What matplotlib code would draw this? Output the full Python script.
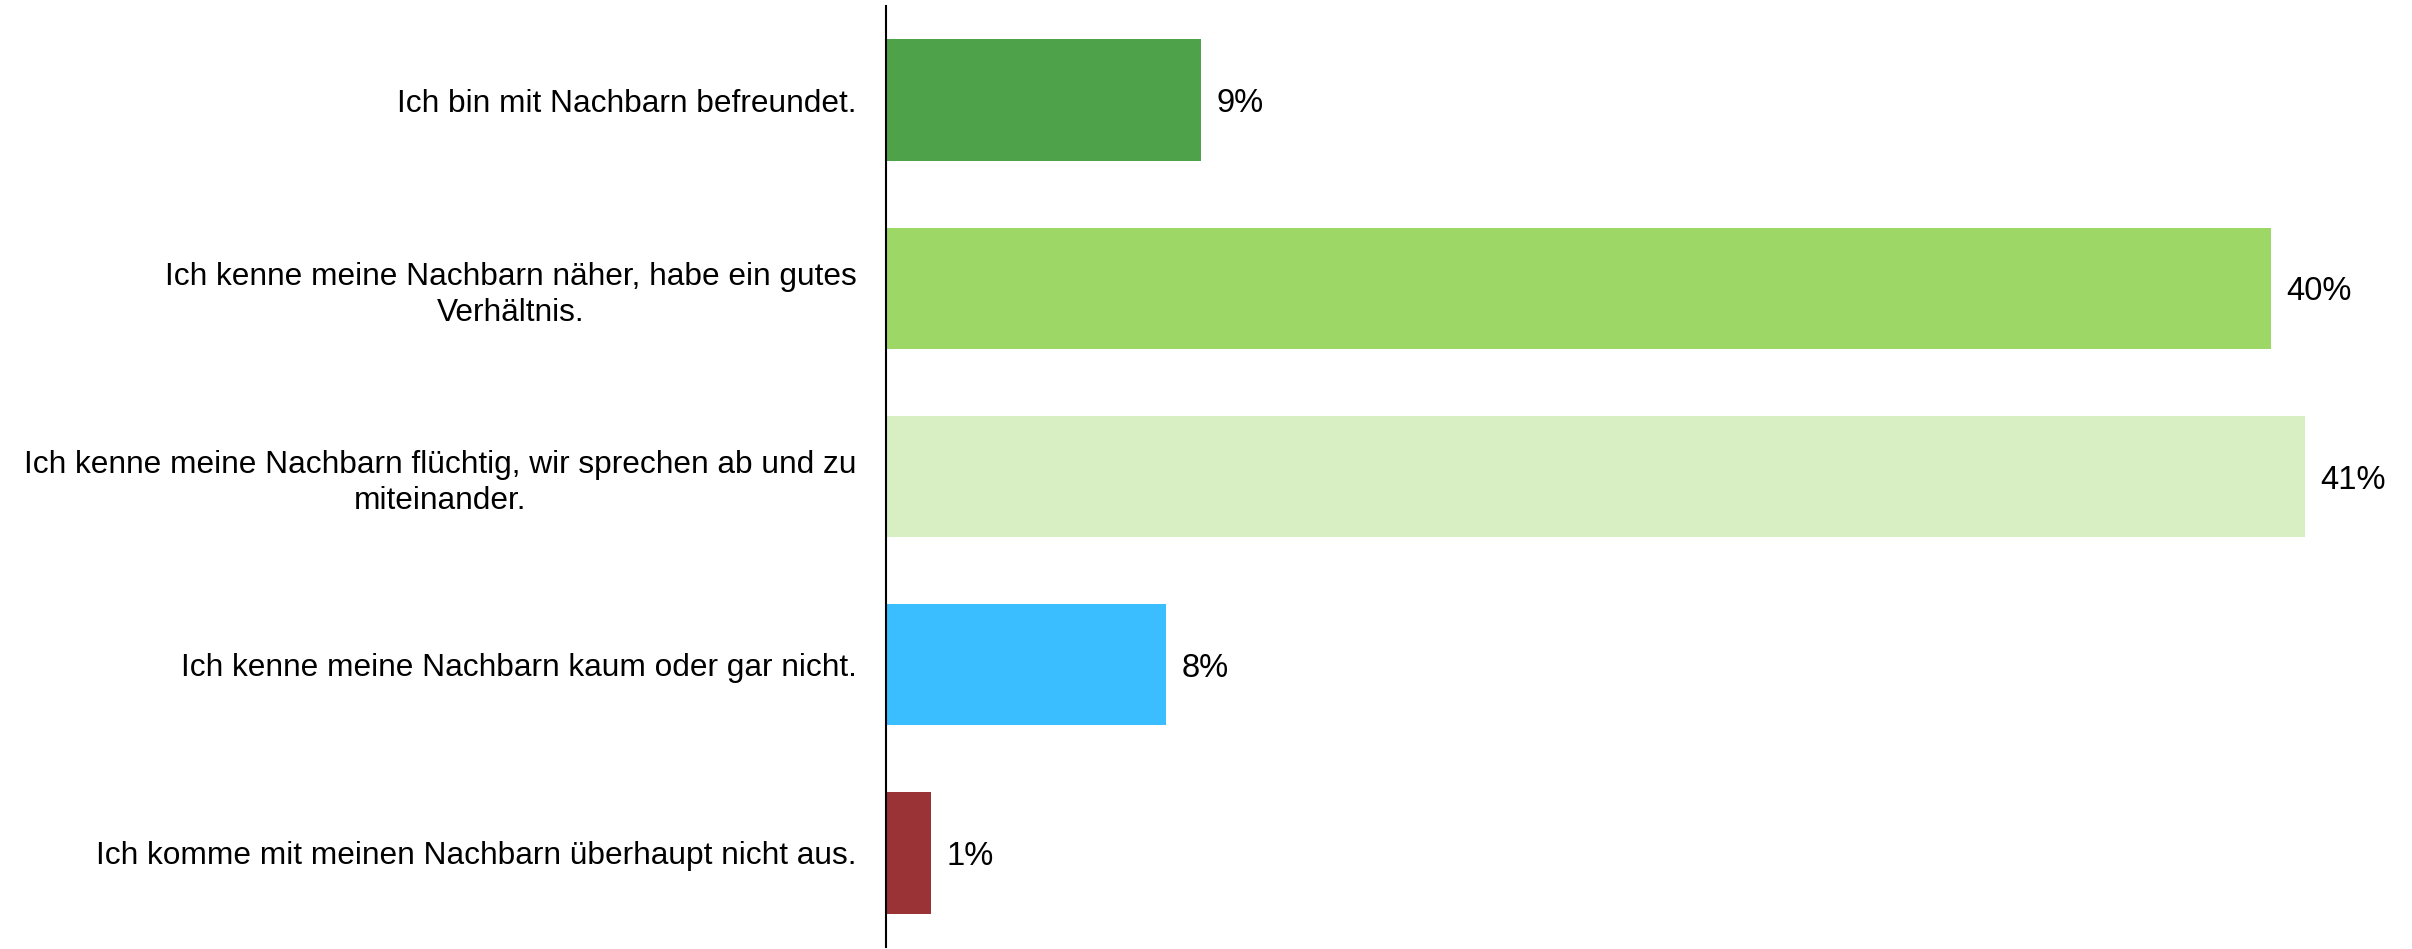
import matplotlib
matplotlib.use('Agg')
import matplotlib.pyplot as plt

plt.rcParams['font.family'] = ['Liberation Sans', 'DejaVu Sans']

CATEGORIES = [
    'Ich bin mit Nachbarn befreundet.',
    'Ich kenne meine Nachbarn näher, habe ein gutes\nVerhältnis.',
    'Ich kenne meine Nachbarn flüchtig, wir sprechen ab und zu\nmiteinander.',
    'Ich kenne meine Nachbarn kaum oder gar nicht.',
    'Ich komme mit meinen Nachbarn überhaupt nicht aus.',
]
SHARES = [9.1, 40.0, 41.0, 8.1, 1.3]
COLORS = ['#4ea24a', '#9dd866', '#d8eec3', '#3bbeff', '#993336']

fig = plt.figure(figsize=(24.12, 9.49), dpi=100)
ax = fig.add_axes([886 / 2412, 2 / 949, 1 - 886 / 2412, 941 / 949])

ypos = list(range(len(CATEGORIES)))
bars = ax.barh(ypos, SHARES, height=0.646, color=COLORS)

# percentage labels just right of each bar
for bar, val in zip(bars, SHARES):
    ax.annotate(f'{val:.0f}%', (bar.get_width(), bar.get_y() + bar.get_height() / 2),
                xytext=(15, 0), textcoords='offset pixels',
                ha='left', va='center_baseline', fontsize=23.5, color='black')

ax.set_ylim(4.5, -0.5)
ax.set_xlim(0, 44.08)
ax.set_yticks(ypos)
ax.set_yticklabels(CATEGORIES, fontsize=22.8, linespacing=1.25)
for lbl in ax.get_yticklabels():
    lbl.set_multialignment('center')
ax.tick_params(axis='y', length=0, pad=21)
ax.set_xticks([])

for side in ['top', 'right', 'bottom']:
    ax.spines[side].set_visible(False)
ax.spines['left'].set_linewidth(1.5)
ax.spines['left'].set_color('black')

fig.savefig('out.png', dpi=100)
plt.close(fig)
